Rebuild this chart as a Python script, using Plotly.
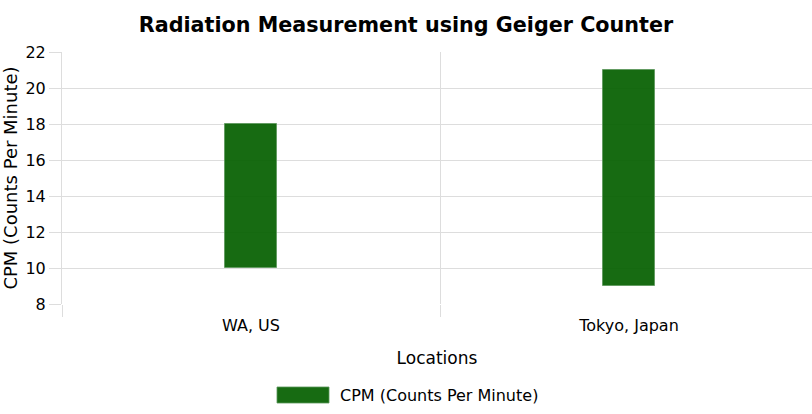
"""
Range bar chart: radiation readings by location.
"""

import plotly.graph_objects as go

# ── Data ─────────────────────────────────────────────────────────────────────
LOCATIONS = ["WA, US", "Tokyo, Japan"]
CPM_LOW   = [10, 9]
CPM_HIGH  = [18, 21]
SERIES    = "CPM (Counts Per Minute)"

# ── Theme ────────────────────────────────────────────────────────────────────
FONT     = "DejaVu Sans, Verdana, sans-serif"
GRID_CLR = "#dddddd"
BAR_CLR  = "rgba(5,96,0,0.93)"
EDGE_CLR = "rgba(90,150,90,0.8)"
TXT_CLR  = "#000000"

fig = go.Figure(go.Bar(
    x=LOCATIONS,
    y=[h - l for l, h in zip(CPM_LOW, CPM_HIGH)],
    base=CPM_LOW,
    width=0.138,
    name=SERIES,
    marker=dict(color=BAR_CLR, line=dict(color=EDGE_CLR, width=1)),
    showlegend=False,
))

fig.update_xaxes(
    range=[-0.5, -0.5 + 750 / 378], automargin=False,
    tickson="boundaries", ticks="outside", ticklen=12, tickcolor=GRID_CLR,
    ticklabelstandoff=10,
    showgrid=True, gridcolor=GRID_CLR, zeroline=False,
    tickfont=dict(size=16, color=TXT_CLR),
    title=dict(text="Locations", font=dict(size=17, color=TXT_CLR), standoff=18),
)
fig.update_yaxes(
    range=[8, 22], dtick=2, automargin=False,
    ticks="outside", ticklen=12, tickcolor=GRID_CLR,
    showline=True, linecolor=GRID_CLR,
    showgrid=True, gridcolor=GRID_CLR, zeroline=False,
    tickfont=dict(size=16, color=TXT_CLR),
    title=dict(text=SERIES, font=dict(size=18, color=TXT_CLR), standoff=8),
)

# legend drawn by hand so the swatch matches the wide block in the original
fig.add_shape(type="rect", xref="paper", yref="paper",
              x0=(277 - 62) / 750, x1=(329 - 62) / 750,
              y0=-(403 - 304) / 252, y1=-(387 - 304) / 252,
              fillcolor=BAR_CLR, line=dict(color=EDGE_CLR, width=1))
fig.add_annotation(text=SERIES, xref="paper", yref="paper",
                   x=(338 - 62) / 750, y=-(395 - 304) / 252,
                   xanchor="left", yanchor="middle", showarrow=False,
                   font=dict(size=16, color=TXT_CLR))

fig.update_layout(
    width=812, height=414,
    paper_bgcolor="white", plot_bgcolor="white",
    font=dict(family=FONT, color=TXT_CLR),
    margin=dict(l=62, r=0, t=52, b=110),
    title=dict(text="<b>Radiation Measurement using Geiger Counter</b>",
               x=0.5, xref="container", xanchor="center",
               y=1 - 25 / 414, yref="container", yanchor="middle",
               font=dict(size=20.7, color=TXT_CLR)),
    bargap=0,
)

# drop the browser's default body margin so the chart sits at the page corner
fig.write_html("out.html", config={"displayModeBar": False},
               post_script="document.body.style.margin='0';")
